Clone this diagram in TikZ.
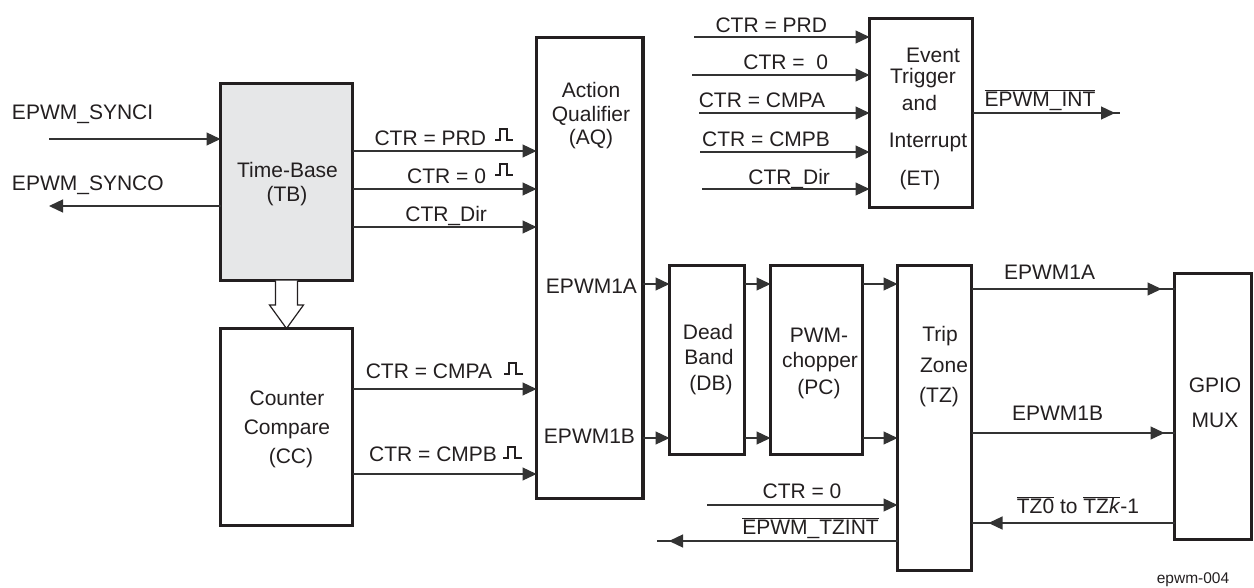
\documentclass[tikz,border=0pt]{standalone}
\usepackage{fontspec}
\setmainfont{Liberation Sans}
\usetikzlibrary{arrows.meta}
\definecolor{tbfill}{RGB}{230,231,232}
\definecolor{ink}{RGB}{35,31,32}
\newcommand{\ovl}[1]{$\overline{\mbox{#1}}$}
\begin{document}
\begin{tikzpicture}[x=1pt,y=-1pt,
  font=\fontsize{21}{25}\selectfont,
  text=ink,
  box/.style={draw=ink, line width=3.2pt, inner sep=0pt, outer sep=0pt, anchor=north west},
  wire/.style={line width=1.3pt, draw=black!80},
  arr/.style={wire, -{Triangle[length=14pt,width=13pt]}},
  lbl/.style={inner sep=0pt, outer sep=0pt, text height=15pt, text depth=0pt},
  pulse/.style={line width=1.1pt, draw=ink},
]
\useasboundingbox (0,0) rectangle (1254,587);

% boxes
\node[box, fill=tbfill, minimum width=132pt, minimum height=197pt] (tb) at (220.5,83.5) {};
\node[box, minimum width=132pt, minimum height=197pt] (cc) at (220.5,328.5) {};
\node[box, minimum width=106.5pt, minimum height=461pt] (aq) at (536.5,37.5) {};
\node[box, minimum width=103pt, minimum height=189pt] (et) at (869.5,18.5) {};
\node[box, minimum width=75pt, minimum height=189pt] (db) at (669.5,265.5) {};
\node[box, minimum width=92pt, minimum height=189pt] (pc) at (770.5,265.5) {};
\node[box, minimum width=74pt, minimum height=305pt] (tz) at (897.5,265.5) {};
\node[box, minimum width=77pt, minimum height=266pt] (gpio) at (1174.5,273.5) {};

% box texts
\node[lbl] (tb1) at (287.5,169.5) {Time-Base};
\node[lbl] (tb2) at (287,194) {(TB)};
\node[lbl] (cc1) at (287,398) {Counter};
\node[lbl] (cc2) at (287,427) {Compare};
\node[lbl] (cc3) at (291,456) {(CC)};
\node[lbl] (aq1) at (591,90) {Action};
\node[lbl] (aq2) at (591,114) {Qualifier};
\node[lbl] (aq3) at (591,137) {(AQ)};
\node[lbl, anchor=east] (aqa) at (637,286) {EPWM1A};
\node[lbl, anchor=east] (aqb) at (635,436) {EPWM1B};
\node[lbl] (db1) at (708,332) {Dead};
\node[lbl] (db2) at (709,357) {Band};
\node[lbl] (db3) at (711,383) {(DB)};
\node[lbl] (pc1) at (819,335) {PWM-};
\node[lbl] (pc2) at (820,360) {chopper};
\node[lbl] (pc3) at (819,387) {(PC)};
\node[lbl] (tz1) at (940,334) {Trip};
\node[lbl] (tz2) at (944,365) {Zone};
\node[lbl] (tz3) at (939,395) {(TZ)};
\node[lbl] (gp1) at (1215,385) {GPIO};
\node[lbl] (gp2) at (1215,420) {MUX};
\node[lbl] (et1) at (933,55) {Event};
\node[lbl] (et2) at (923,76) {Trigger};
\node[lbl] (et3) at (919.5,103) {and};
\node[lbl] (et4) at (928,140) {Interrupt};
\node[lbl] (et5) at (920,178) {(ET)};

% sync signals
\coordinate (synci) at (49,139);
\coordinate (synco) at (49,206);
\node[lbl, anchor=west] (lsynci) at (12,112) {EPWM\_SYNCI};
\node[lbl, anchor=west] (lsynco) at (12,183) {EPWM\_SYNCO};
\draw[arr] (synci) -- (synci -| tb.west);
\draw[arr] (synco -| tb.west) -- (synco);

% TB -> AQ
\draw[arr] (tb.east |- 0,151) -- (aq.west |- 0,151);
\draw[arr] (tb.east |- 0,189) -- (aq.west |- 0,189);
\draw[arr] (tb.east |- 0,227) -- (aq.west |- 0,227);
\node[lbl, anchor=east] (lprd) at (486,137.5) {CTR = PRD};
\node[lbl, anchor=east] (lzero) at (486,175.5) {CTR = 0};
\node[lbl, anchor=east] (ldir) at (487,214) {CTR\_Dir};

% CC -> AQ
\draw[arr] (cc.east |- 0,389) -- (aq.west |- 0,389);
\draw[arr] (cc.east |- 0,474) -- (aq.west |- 0,474);
\node[lbl, anchor=east] (lcmpa) at (492,370.5) {CTR = CMPA};
\node[lbl, anchor=east] (lcmpb) at (497,454) {CTR = CMPB};

% pulses
\draw[pulse] (495,140) -- (500,140) -- (500,129) -- (507,129) -- (507,140) -- (513,140);
\draw[pulse] (495,175) -- (500,175) -- (500,164) -- (507,164) -- (507,175) -- (513,175);
\draw[pulse] (504,374) -- (509,374) -- (509,363) -- (516,363) -- (516,374) -- (523,374);
\draw[pulse] (503,458) -- (508,458) -- (508,447) -- (515,447) -- (515,458) -- (522,458);

% hollow arrow TB -> CC
\draw[line width=1.2pt, draw=ink, fill=white]
  ([xshift=-11pt]tb.south) -- ([xshift=-11pt]tb.south |- 0,305)
  -- ([xshift=-17pt]tb.south |- 0,305) -- (cc.north)
  -- ([xshift=17pt]tb.south |- 0,305) -- ([xshift=11pt]tb.south |- 0,305)
  -- ([xshift=11pt]tb.south);

% AQ -> DB -> PC -> TZ
\draw[arr] (aq.east |- 0,284) -- (db.west |- 0,284);
\draw[arr] (aq.east |- 0,438) -- (db.west |- 0,438);
\draw[arr] (db.east |- 0,284) -- (pc.west |- 0,284);
\draw[arr] (db.east |- 0,438) -- (pc.west |- 0,438);
\draw[arr] (pc.east |- 0,284) -- (tz.west |- 0,284);
\draw[arr] (pc.east |- 0,438) -- (tz.west |- 0,438);

% TZ -> GPIO
\draw[wire] (tz.east |- 0,289) -- (gpio.west |- 0,289);
\draw[arr, shorten >=13pt] (tz.east |- 0,289) -- (gpio.west |- 0,289);
\draw[wire] (tz.east |- 0,433) -- (gpio.west |- 0,433);
\draw[arr, shorten >=10pt] (tz.east |- 0,433) -- (gpio.west |- 0,433);
\node[lbl] (loa) at (1049.5,272) {EPWM1A};
\node[lbl] (lob) at (1057.5,413) {EPWM1B};

% GPIO -> TZ trip inputs
\draw[wire] (gpio.west |- 0,523) -- (tz.east |- 0,523);
\draw[arr, shorten >=17pt] (gpio.west |- 0,523) -- (tz.east |- 0,523);
\node[lbl] (ltz) at (1078,506) {\ovl{TZ0} to \ovl{TZ\textit{k}}-1};

% TZ left side
\coordinate (tzc) at (707,505);
\coordinate (tzint) at (657,541);
\draw[arr] (tzc) -- (tzc -| tz.west);
\draw[wire] (tzint -| tz.west) -- (tzint);
\draw[arr, shorten >=12pt] (tzint -| tz.west) -- (tzint);
\node[lbl] (ltzc) at (802,491) {CTR = 0};
\node[lbl] (ltzint) at (810.5,527) {\ovl{EPWM\_TZINT}};

% ET inputs
\coordinate (e1) at (694,37);
\coordinate (e2) at (692,75);
\coordinate (e3) at (699,113);
\coordinate (e4) at (700,152);
\coordinate (e5) at (702,189);
\draw[arr] (e1) -- (e1 -| et.west);
\draw[arr] (e2) -- (e2 -| et.west);
\draw[arr] (e3) -- (e3 -| et.west);
\draw[arr] (e4) -- (e4 -| et.west);
\draw[arr] (e5) -- (e5 -| et.west);
\node[lbl, anchor=east] (le1) at (827,25) {CTR = PRD};
\node[lbl, anchor=east] (le2) at (828,62) {CTR = \ 0};
\node[lbl, anchor=east] (le3) at (825,100) {CTR = CMPA};
\node[lbl, anchor=east] (le4) at (830,139) {CTR = CMPB};
\node[lbl, anchor=east] (le5) at (830,177) {CTR\_Dir};

% ET output
\coordinate (eint) at (1120,113);
\draw[wire] (eint -| et.east) -- (eint);
\draw[arr, shorten >=5pt] (eint -| et.east) -- (eint);
\node[lbl] (leint) at (1040,99) {\ovl{EPWM\_INT}};

% figure id
\node[inner sep=0pt, font=\fontsize{15.5}{18}\selectfont] (fid) at (1193,580) {epwm-004};
\end{tikzpicture}
\end{document}
